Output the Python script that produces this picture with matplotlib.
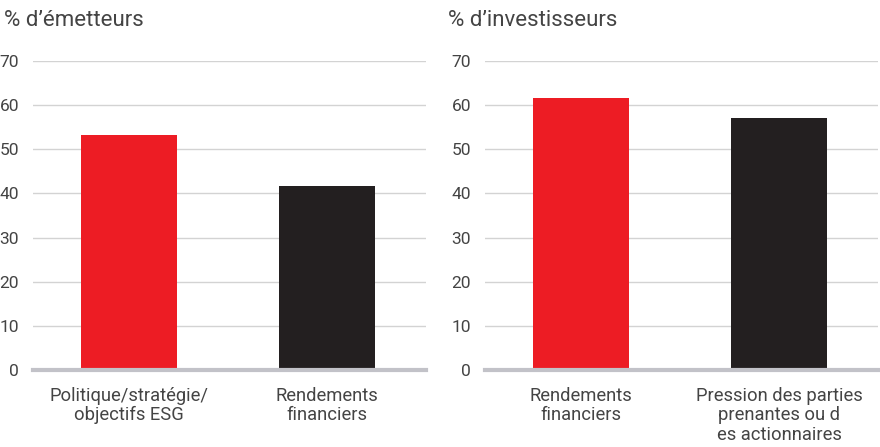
import matplotlib
matplotlib.use('Agg')
import matplotlib.pyplot as plt

plt.rcParams['font.family'] = ['Roboto', 'DejaVu Sans']

# Données
titres = ["% d\u2019émetteurs", "% d\u2019investisseurs"]
cats_emetteurs = ["Politique/stratégie/\nobjectifs ESG", "Rendements\nfinanciers"]
vals_emetteurs = [53.2, 41.6]
cats_investisseurs = ["Rendements\nfinanciers", "Pression des parties\nprenantes ou d\nes actionnaires"]
vals_investisseurs = [61.7, 57.2]
yticks = [0, 10, 20, 30, 40, 50, 60, 70]

couleurs = ['#ED1C24', '#231F20']
texte = '#444444'

fig = plt.figure(figsize=(8.8, 4.47), dpi=100)

positions = [
    [33 / 880, 1 - 370 / 447, 393 / 880, 309 / 447],
    [485 / 880, 1 - 370 / 447, 393 / 880, 309 / 447],
]
titre_x = [4 / 880, 448 / 880]

for pos, tx, titre, cats, vals in zip(positions, titre_x, titres,
                                      [cats_emetteurs, cats_investisseurs],
                                      [vals_emetteurs, vals_investisseurs]):
    ax = fig.add_axes(pos)
    x = list(range(len(cats)))
    ax.bar(x, vals, width=0.485, color=couleurs, zorder=3)
    ax.set_xlim(-0.485, 1.5)
    ax.set_ylim(0, 70)
    ax.set_yticks(yticks)
    ax.set_xticks(x)
    ax.set_xticklabels(cats, fontsize=13.2, color=texte, linespacing=1.12)
    ax.tick_params(axis='y', length=0, pad=10, labelsize=12.5, labelcolor=texte)
    ax.tick_params(axis='x', length=0, pad=12)
    ax.grid(axis='y', color='#d3d3d3', linewidth=1, zorder=1)
    for s in ['top', 'right', 'left']:
        ax.spines[s].set_visible(False)
    ax.spines['bottom'].set_color('#c2c2c8')
    ax.spines['bottom'].set_linewidth(3)
    ax.spines['bottom'].set_zorder(4)
    fig.text(tx, 1 - 20 / 447, titre, fontsize=16, color=texte,
             ha='left', va='center')

fig.savefig('out.png', dpi=100)
